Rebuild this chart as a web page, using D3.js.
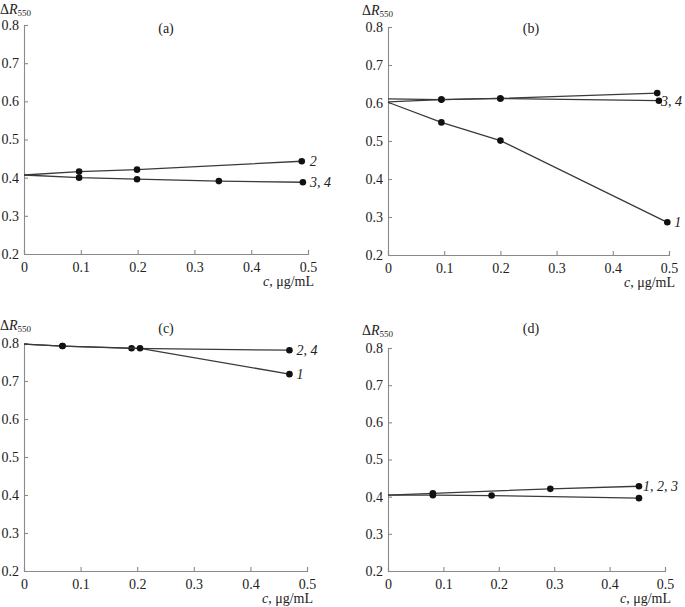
<!DOCTYPE html>
<html><head><meta charset="utf-8">
<script src="https://cdn.jsdelivr.net/npm/d3@7"></script>
<style>body{margin:0;background:#fff}svg{display:block}
text{font-family:"Liberation Serif","Times New Roman",serif}</style>
</head><body>
<svg id="c" width="685" height="607"></svg>
<script>
const yTicks = [0.2,0.3,0.4,0.5,0.6,0.7,0.8];
const xTicks = [0,0.1,0.2,0.3,0.4,0.5];
const panelNames = ["(a)","(b)","(c)","(d)"];

// panel (a)
const a_s2 = [[0,0.407],[0.097,0.416],[0.199,0.421],[0.489,0.443]];
const a_s34 = [[0,0.407],[0.097,0.400],[0.199,0.396],[0.343,0.391],[0.491,0.388]];
// panel (b)
const b_s2 = [[0,0.611],[0.095,0.609],[0.2,0.612],[0.479,0.626]];
const b_s34 = [[0,0.603],[0.095,0.609],[0.2,0.612],[0.482,0.606]];
const b_s1 = [[0,0.602],[0.095,0.549],[0.2,0.501],[0.497,0.286]];
// panel (c)
const c_s24 = [[0,0.797],[0.068,0.792],[0.19,0.786],[0.469,0.781]];
const c_s1 = [[0,0.797],[0.068,0.792],[0.205,0.786],[0.469,0.718]];
// panel (d)
const d_up = [[0,0.404],[0.081,0.409],[0.293,0.421],[0.453,0.428]];
const d_lo = [[0,0.404],[0.081,0.404],[0.187,0.403],[0.453,0.396]];

const panels = [
  {name:panelNames[0], x:[24,308], y:[254,25], series:[a_s2,a_s34], labels:[{s:0,t:"2",dx:8},{s:1,t:"3, 4",dx:7}], ttl:[166,33], ylab:[0,14]},
  {name:panelNames[1], x:[388,669], y:[255,27], series:[b_s2,b_s34,b_s1], labels:[{s:1,t:"3, 4",dx:2},{s:2,t:"1",dx:7}], ttl:[531,33], ylab:[362,15]},
  {name:panelNames[2], x:[24,307], y:[571,343], series:[c_s24,c_s1], labels:[{s:0,t:"2, 4",dx:7},{s:1,t:"1",dx:7}], ttl:[166,333], ylab:[0,330]},
  {name:panelNames[3], x:[388,665], y:[571,348], series:[d_up,d_lo], labels:[{s:0,t:"1, 2, 3",dx:4}], ttl:[531,333], ylab:[362,335]}
];

const svg = d3.select("#c");
const axisCol = "#8a8a8a";

panels.forEach(p => {
  const x = d3.scaleLinear().domain([0,0.5]).range(p.x);
  const y = d3.scaleLinear().domain([0.2,0.8]).range(p.y);
  const g = svg.append("g");

  const xa = g.append("g").attr("transform",`translate(0,${p.y[0]})`)
    .call(d3.axisBottom(x).tickValues(xTicks).tickSize(-4).tickSizeOuter(-4).tickPadding(8)
      .tickFormat(d => d===0 ? "0" : d3.format(".1f")(d)));
  const ya = g.append("g").attr("transform",`translate(${p.x[0]},0)`)
    .call(d3.axisLeft(y).tickValues(yTicks).tickSize(-4).tickSizeOuter(-4).tickPadding(5)
      .tickFormat(d3.format(".1f")));
  [xa,ya].forEach(ax => {
    ax.attr("font-family",null);
    ax.selectAll("path,line").attr("stroke",axisCol).attr("stroke-width",1.1);
    ax.selectAll("text").attr("font-size",14).attr("fill","#222");
  });

  const line = d3.line().x(d=>x(d[0])).y(d=>y(d[1]));
  p.series.forEach(s => {
    g.append("path").datum(s).attr("d",line).attr("fill","none")
      .attr("stroke","#3a3a3a").attr("stroke-width",1.3);
    g.selectAll(null).data(s.filter(d=>d[0]>0)).enter().append("circle")
      .attr("cx",d=>x(d[0])).attr("cy",d=>y(d[1])).attr("r",3.3).attr("fill","#111");
  });
  p.labels.forEach(l => {
    const last = p.series[l.s][p.series[l.s].length-1];
    g.append("text").attr("x",x(last[0])+l.dx).attr("y",y(last[1])+5)
      .attr("font-style","italic").attr("font-size",14)
      .attr("fill","#222").text(l.t);
  });

  g.append("text").attr("x",p.ttl[0]).attr("y",p.ttl[1]).attr("text-anchor","middle")
    .attr("font-size",14).attr("fill","#222").text(p.name);

  const yl = g.append("text").attr("x",p.ylab[0]).attr("y",p.ylab[1])
    .attr("font-size",14).attr("fill","#222");
  yl.append("tspan").text("Δ");
  yl.append("tspan").attr("font-style","italic").text("R");
  yl.append("tspan").attr("font-size",9).attr("dy",2).text("550");

  const xl = g.append("text").attr("x",p.x[1]+6).attr("y",p.y[0]+32).attr("text-anchor","end")
    .attr("font-size",14).attr("fill","#222");
  xl.append("tspan").attr("font-style","italic").text("c");
  xl.append("tspan").text(", μg/mL");
});
</script>
</body></html>
